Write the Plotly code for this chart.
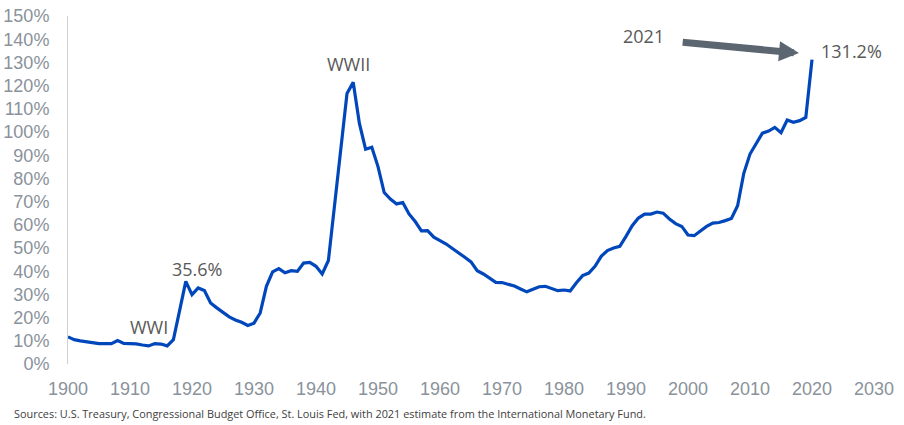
import plotly.graph_objects as go

years = list(range(1900, 2021))
debt_pct = [
    11.7, 10.5, 10.0, 9.6, 9.5, 8.8, 8.8, 8.8, 10.1, 8.9,      # 1900-1909
    8.8, 8.7, 8.2, 7.8, 8.8, 8.6, 7.8, 10.5, 23.0, 35.6,       # 1910-1919
    29.9, 32.8, 31.7, 26.3, 24.2, 22.2, 20.3, 19.0, 18.0, 16.6, # 1920-1929
    17.6, 22.0, 33.5, 39.7, 41.1, 39.3, 40.2, 39.9, 43.5, 43.8, # 1930-1939
    42.1, 38.8, 44.6, 68.6, 92.6, 116.6, 121.4, 103.7, 92.6, 93.4, # 1940-1949
    85.1, 73.9, 71.1, 69.0, 69.6, 64.7, 61.4, 57.4, 57.5, 54.7, # 1950-1959
    53.2, 51.7, 49.8, 48.1, 46.0, 44.0, 40.2, 38.8, 37.0, 35.2, # 1960-1969
    35.1, 34.5, 33.6, 32.3, 31.1, 32.2, 33.3, 33.5, 32.6, 31.6, # 1970-1979
    31.9, 31.5, 35.0, 38.1, 39.2, 42.1, 46.4, 48.9, 50.0, 50.7, # 1980-1989
    55.0, 59.6, 62.9, 64.6, 64.6, 65.5, 65.0, 62.5, 60.5, 59.3, # 1990-1999
    55.6, 55.3, 57.3, 59.3, 60.7, 61.0, 61.8, 62.7, 68.2, 82.2, # 2000-2009
    90.5, 95.1, 99.5, 100.4, 102.0, 99.7, 105.2, 104.2, 104.9, 106.3, # 2010-2019
    131.2,                                                     # 2020 (2021 estimate)
]

y_ticks = list(range(0, 151, 10))
y_tick_text = [f"{v}%" for v in y_ticks]
x_ticks = list(range(1900, 2031, 10))

source_text = ("Sources: U.S. Treasury, Congressional Budget Office, St. Louis Fed, "
               "with 2021 estimate from the International Monetary Fund.")

line_color = "#0047bb"
tick_color = "#8a929b"
note_color = "#595959"
note_font = "Open Sans, Noto Sans, sans-serif"

fig = go.Figure()
fig.add_trace(go.Scatter(
    x=years, y=debt_pct, mode="lines",
    line=dict(color=line_color, width=3.2),
    hoverinfo="skip", showlegend=False,
))

annotations = [
    dict(x=1919, y=35.6, text="35.6%", showarrow=False, xshift=11, yshift=12,
         font=dict(size=18, color=note_color, family=note_font)),
    dict(x=1913, y=7.8, text="WWI", showarrow=False, yshift=19,
         font=dict(size=18, color=note_color, family=note_font)),
    dict(x=1946, y=121.4, text="WWII", showarrow=False, xshift=-5, yshift=18,
         font=dict(size=18, color=note_color, family=note_font)),
    dict(x=2020, y=131.2, text="131.2%", showarrow=False, xanchor="left",
         xshift=7, yshift=9,
         font=dict(size=18, color=note_color, family=note_font)),
    dict(x=1992.8, y=141.3, text="2021", showarrow=False,
         font=dict(size=18, color=note_color, family=note_font)),
    dict(x=2017.9, y=134.0, ax=1998.9, ay=138.7, axref="x", ayref="y",
         xref="x", yref="y", text="", showarrow=True, arrowhead=2,
         arrowwidth=7, arrowsize=0.57, arrowcolor="#5b6670", standoff=0),
    dict(x=0, y=0, xref="paper", yref="paper", xanchor="left",
         yanchor="middle", xshift=-56, yshift=-49, text=source_text,
         showarrow=False,
         font=dict(size=10.9, color="#404040", family=note_font)),
]

fig.update_layout(
    width=904, height=425,
    margin=dict(l=68, r=30, t=16, b=60.5),
    paper_bgcolor="white", plot_bgcolor="white",
    font=dict(family="Liberation Sans, Arial, sans-serif"),
    annotations=annotations,
    xaxis=dict(
        range=[1900, 2030], tickvals=x_ticks, showgrid=False, zeroline=False,
        showline=False, ticks="outside", ticklen=8, tickcolor="rgba(0,0,0,0)",
        tickfont=dict(size=18, color=tick_color), automargin=False,
    ),
    yaxis=dict(
        range=[0, 150], tickvals=y_ticks, ticktext=y_tick_text,
        showgrid=False, zeroline=False, showline=True, linecolor="#d0d0d0",
        linewidth=1, ticks="outside", ticklen=14, tickcolor="rgba(0,0,0,0)",
        tickfont=dict(size=18, color=tick_color), automargin=False,
    ),
)

fig.write_html("out.html")
